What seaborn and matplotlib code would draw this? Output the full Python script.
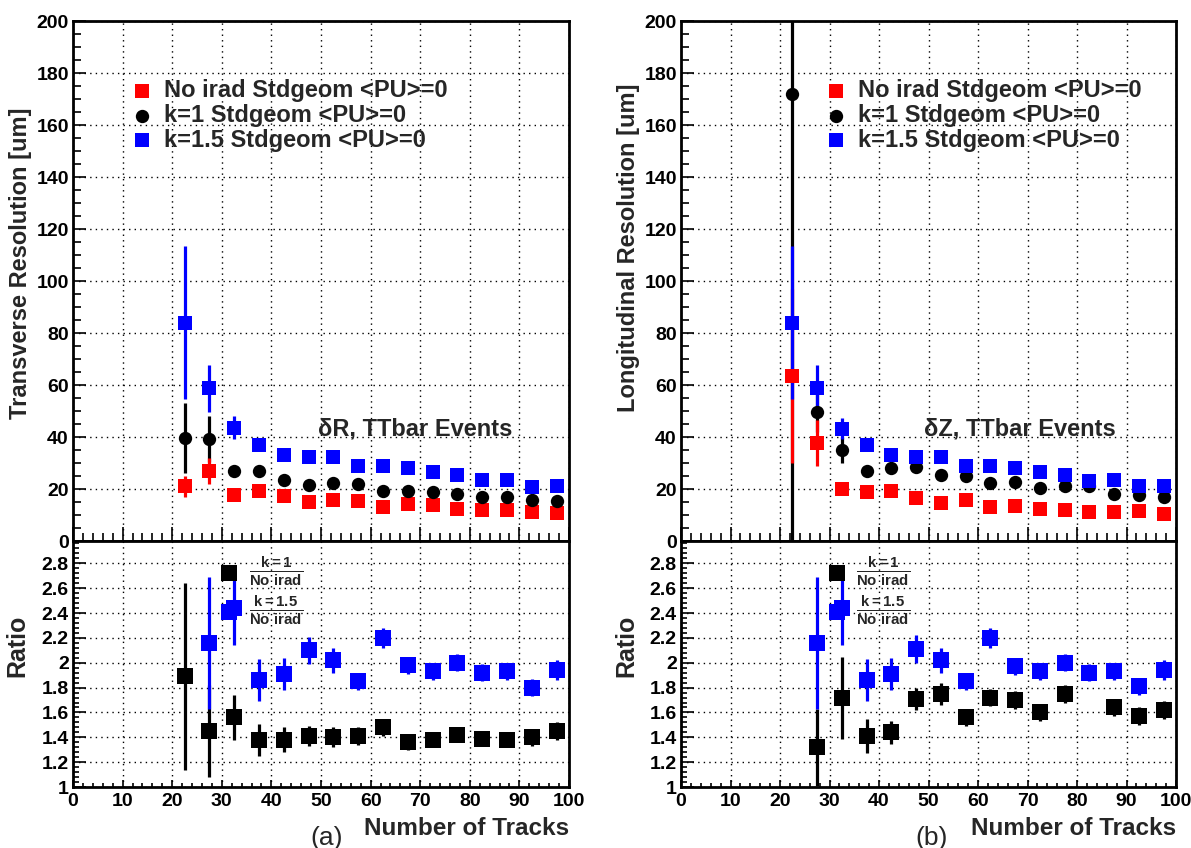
import numpy as np
import pandas as pd
import matplotlib
matplotlib.use("Agg")
import matplotlib.pyplot as plt
import seaborn as sns
from matplotlib.ticker import MultipleLocator

# ---------------- data ----------------
ntracks = [22.5, 27.5, 32.5, 37.5, 42.5, 47.5, 52.5, 57.5,
           62.5, 67.5, 72.5, 77.5, 82.5, 87.5, 92.5, 97.5]

series_labels = ["No irad Stdgeom <PU>=0", "k=1 Stdgeom <PU>=0", "k=1.5 Stdgeom <PU>=0"]
ratio_labels = [r"$\frac{\mathbf{k=1}}{\mathbf{No\ irad}}$", r"$\frac{\mathbf{k=1.5}}{\mathbf{No\ irad}}$"]

# Transverse resolution [um]
trans_noirad = [21.0, 27.1, 17.7, 19.4, 17.2, 15.1, 15.9, 15.5, 12.9, 14.2, 13.8, 12.3, 11.9, 12.0, 11.2, 10.6]
trans_noirad_err = [4.0, 5.0, 1.2, 1.0, 0.8, 0.7, 0.7, 0.6, 0.6, 0.5, 0.5, 0.5, 0.5, 0.5, 0.4, 0.4]
trans_k1 = [39.7, 39.2, 27.1, 27.1, 23.6, 21.7, 22.3, 21.9, 19.4, 19.4, 18.7, 18.1, 17.0, 17.0, 15.9, 15.5]
trans_k1_err = [13.5, 8.7, 1.6, 1.3, 1.0, 0.9, 0.9, 0.8, 0.7, 0.7, 0.7, 0.6, 0.6, 0.6, 0.6, 0.6]
trans_k15 = [84.0, 58.7, 43.5, 36.8, 32.9, 32.5, 32.5, 29.0, 29.0, 28.1, 26.5, 25.5, 23.5, 23.6, 20.9, 21.0]
trans_k15_err = [29.5, 9.0, 4.4, 1.6, 1.3, 1.1, 1.0, 0.9, 0.9, 0.8, 0.8, 0.8, 0.7, 0.7, 0.7, 0.7]

# Longitudinal resolution [um]
long_noirad = [63.5, 37.7, 20.0, 19.0, 19.4, 16.5, 14.5, 15.9, 12.9, 13.3, 12.3, 11.9, 11.0, 11.0, 11.4, 10.3]
long_noirad_err = [33.5, 9.0, 1.2, 1.0, 0.9, 0.8, 0.7, 0.7, 0.6, 0.6, 0.5, 0.5, 0.5, 0.5, 0.5, 0.4]
long_k1 = [172.0, 49.8, 35.1, 27.1, 28.0, 28.4, 25.2, 24.9, 22.3, 22.8, 20.3, 21.0, 21.0, 18.1, 17.7, 16.8]
long_k1_err = [180.0, 8.0, 5.0, 1.5, 1.3, 1.2, 1.0, 0.9, 0.8, 0.8, 0.7, 0.7, 0.7, 0.6, 0.6, 0.6]
long_k15 = [84.0, 58.7, 43.2, 36.8, 32.9, 32.5, 32.3, 29.0, 29.0, 28.1, 26.5, 25.5, 23.2, 23.6, 21.3, 21.3]
long_k15_err = [29.5, 9.0, 4.0, 1.6, 1.3, 1.1, 1.0, 0.9, 0.9, 0.8, 0.8, 0.8, 0.7, 0.7, 0.7, 0.7]

# Ratios (transverse, panel a)
ratio_a_k1 = [1.89, 1.45, 1.56, 1.38, 1.38, 1.41, 1.40, 1.41, 1.48, 1.36, 1.38, 1.42, 1.39, 1.38, 1.40, 1.45]
ratio_a_k1_err = [0.75, 0.37, 0.18, 0.13, 0.10, 0.08, 0.08, 0.07, 0.07, 0.06, 0.06, 0.06, 0.06, 0.06, 0.07, 0.07]
ratio_a_k15 = [np.nan, 2.16, 2.44, 1.86, 1.91, 2.10, 2.02, 1.85, 2.20, 1.98, 1.93, 2.00, 1.92, 1.93, 1.80, 1.94]
ratio_a_k15_err = [np.nan, 0.53, 0.30, 0.17, 0.13, 0.11, 0.10, 0.07, 0.08, 0.07, 0.07, 0.07, 0.07, 0.07, 0.07, 0.08]

# Ratios (longitudinal, panel b)
ratio_b_k1 = [np.nan, 1.32, 1.72, 1.41, 1.44, 1.71, 1.75, 1.56, 1.72, 1.70, 1.60, 1.75, np.nan, 1.64, 1.57, 1.62]
ratio_b_k1_err = [np.nan, 0.31, 0.33, 0.14, 0.09, 0.09, 0.09, 0.07, 0.07, 0.07, 0.07, 0.07, np.nan, 0.07, 0.07, 0.07]
ratio_b_k15 = [np.nan, 2.16, 2.44, 1.86, 1.91, 2.11, 2.02, 1.85, 2.20, 1.97, 1.93, 2.00, 1.92, 1.93, 1.81, 1.94]
ratio_b_k15_err = [np.nan, 0.53, 0.30, 0.17, 0.13, 0.11, 0.10, 0.07, 0.08, 0.07, 0.07, 0.07, 0.07, 0.07, 0.07, 0.08]

RED, BLACK, BLUE = "#ff0000", "#000000", "#0000ff"

# ---------------- style ----------------
sns.set_style("white")
plt.rcParams["font.family"] = ["Liberation Sans", "DejaVu Sans"]
plt.rcParams["font.weight"] = "bold"
plt.rcParams["mathtext.fontset"] = "custom"
plt.rcParams["mathtext.rm"] = "Liberation Sans:bold"
plt.rcParams["mathtext.bf"] = "Liberation Sans:bold"
plt.rcParams["mathtext.it"] = "Liberation Sans:bold"

fig = plt.figure(figsize=(11.91, 8.48), dpi=100)
W, H = 1191.0, 848.0


def px_axes(x0, x1, y0, y1):
    return fig.add_axes([x0 / W, (H - y1) / H, (x1 - x0) / W, (y1 - y0) / H])


GRID = dict(color="black", linestyle=(0, (1, 3)), linewidth=1.0)


def style_axes(ax, top):
    for s in ax.spines.values():
        s.set_linewidth(2.0)
        s.set_color("black")
    ax.set_xlim(0, 100)
    ax.xaxis.set_major_locator(MultipleLocator(10))
    ax.xaxis.set_minor_locator(MultipleLocator(2))
    ax.grid(True, which="major", **GRID)
    ax.tick_params(which="both", direction="in", left=True, bottom=True,
                   right=False, top=False, width=1.2, colors="black")
    ax.tick_params(axis="y", which="major", length=9.5, labelsize=14, pad=3)
    if top:
        ax.set_ylim(0, 200)
        ax.yaxis.set_major_locator(MultipleLocator(20))
        ax.yaxis.set_minor_locator(MultipleLocator(5))
        ax.tick_params(axis="y", which="minor", length=5.5)
        ax.tick_params(axis="x", which="major", length=10, labelbottom=False)
        ax.tick_params(axis="x", which="minor", length=5.5)
    else:
        ax.set_ylim(1, 2.98)
        ax.set_yticks([1, 1.2, 1.4, 1.6, 1.8, 2, 2.2, 2.4, 2.6, 2.8])
        ax.set_yticklabels(["1", "1.2", "1.4", "1.6", "1.8", "2", "2.2", "2.4", "2.6", "2.8"])
        ax.yaxis.set_minor_locator(MultipleLocator(0.04))
        ax.tick_params(axis="y", which="minor", length=4.5)
        ax.tick_params(axis="x", which="major", length=5, labelsize=14, pad=4)
        ax.tick_params(axis="x", which="minor", length=3)
    for lab in ax.get_xticklabels() + ax.get_yticklabels():
        lab.set_fontweight("bold")


def draw_series(ax, y, yerr, color, marker, size, ez, mz):
    df = pd.DataFrame({"x": ntracks, "y": y, "e": yerr}).dropna()
    ax.errorbar(df["x"], df["y"], yerr=df["e"], fmt="none", ecolor=color,
                elinewidth=2.3, capsize=0, zorder=ez)
    sns.scatterplot(data=df, x="x", y="y", color=color, marker=marker, s=size,
                    linewidth=0, ax=ax, zorder=mz, legend=False)
    return ax.collections[-1]


def panel(x0, x1, top_series, ratio_series, ylabel, ylab_y, ylab_x, note, leg_x, letter_x, letter):
    ax_t = px_axes(x0, x1, 21, 541)
    ax_r = px_axes(x0, x1, 541, 787)
    style_axes(ax_t, True)
    style_axes(ax_r, False)

    (rn, rne), (k1, k1e), (k15, k15e) = top_series
    e_order = [(k1, k1e, BLACK, "o", 92, 2.0, 3.1),
               (rn, rne, RED, "s", 92, 2.1, 3.0),
               (k15, k15e, BLUE, "s", 92, 2.2, 3.2)]
    handles = {}
    for y, e, c, m, s, ez, mz in e_order:
        handles[c] = draw_series(ax_t, y, e, c, m, s, ez, mz)

    ax_t.legend([handles[RED], handles[BLACK], handles[BLUE]], series_labels,
                loc="upper left", bbox_to_anchor=(leg_x, 0.888), frameon=False,
                handlelength=1.0, handletextpad=0.45,
                labelspacing=0.07, borderpad=0, borderaxespad=0,
                prop={"weight": "bold", "size": 17})
    ax_t.text(note[1], 43, note[0], fontsize=17, fontweight="bold",
              ha="left", va="center", zorder=6)

    ax_t.set_xlabel("")
    ax_t.set_ylabel(ylabel, fontsize=17, fontweight="bold", loc="top")
    ax_t.yaxis.set_label_coords(ylab_x, ylab_y)

    (r1, r1e), (r15, r15e) = ratio_series
    h1 = draw_series(ax_r, r1, r1e, BLACK, "s", 118, 2.0, 3.0)
    h15 = draw_series(ax_r, r15, r15e, BLUE, "s", 118, 2.1, 3.1)
    leg = ax_r.legend([h1, h15], ratio_labels, loc="upper left",
                      bbox_to_anchor=(0.30, 0.945), frameon=False, fontsize=15.5,
                      handlelength=0.7, handletextpad=0.55, labelspacing=0.3,
                      borderpad=0, borderaxespad=0)
    leg.set_zorder(10)

    ax_r.set_ylabel("Ratio", fontsize=18, fontweight="bold", loc="top")
    ax_r.yaxis.set_label_coords(-0.087, 0.70)
    ax_r.set_xlabel("Number of Tracks", fontsize=17.5, fontweight="bold", loc="right")
    ax_r.xaxis.set_label_coords(1.0, -0.12)
    fig.text(letter_x / W, 0.026, letter, fontsize=19, fontweight="normal",
             ha="center", va="top")


panel(73, 569,
      [(trans_noirad, trans_noirad_err), (trans_k1, trans_k1_err), (trans_k15, trans_k15_err)],
      [(ratio_a_k1, ratio_a_k1_err), (ratio_a_k15, ratio_a_k15_err)],
      "Transverse Resolution [um]", 0.833, -0.082,
      ("\u03b4R, TTbar Events", 49.4), 0.115, 327, "(a)")

panel(681, 1176,
      [(long_noirad, long_noirad_err), (long_k1, long_k1_err), (long_k15, long_k15_err)],
      [(ratio_b_k1, ratio_b_k1_err), (ratio_b_k15, ratio_b_k15_err)],
      "Longitudinal Resolution [um]", 0.88, -0.083,
      ("\u03b4Z, TTbar Events", 49.0), 0.289, 932, "(b)")

fig.savefig("out.png", dpi=100)
